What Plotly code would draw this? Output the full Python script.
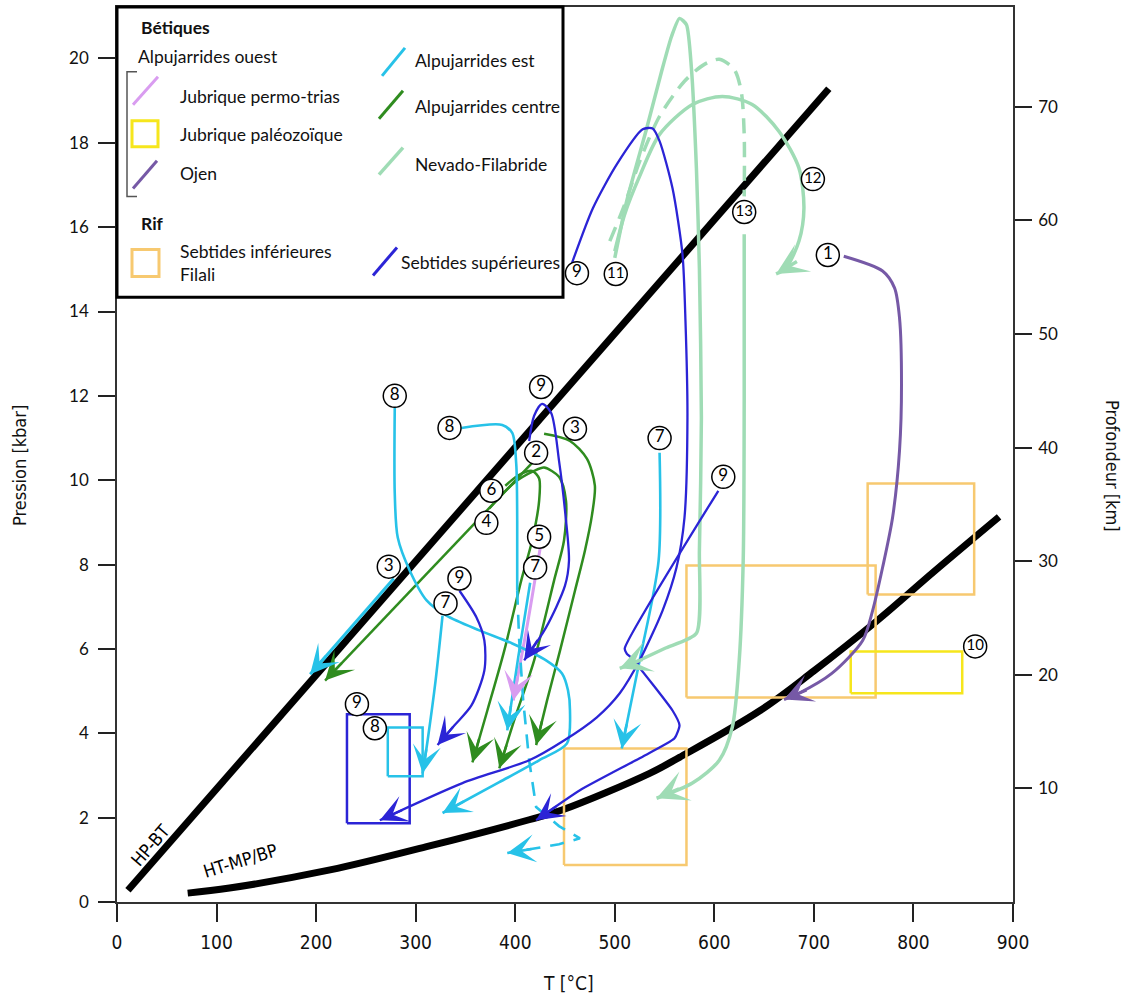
import math
import plotly.graph_objects as go

# ---------------- data (T in °C, P in kbar) ----------------
HPBT_T = [11, 715]
HPBT_P = [0.28, 19.28]
HT_T = [71, 113, 214, 314, 414, 447, 535, 565, 646, 700, 763, 820, 886]
HT_P = [0.21, 0.33, 0.76, 1.33, 1.95, 2.18, 3.05, 3.43, 4.54, 5.48, 6.66, 7.82, 9.13]

# Alpujarrides est (cyan)
C1_T = [278, 194]
C1_P = [7.67, 5.40]
C2_T = [279, 279, 282, 294, 311, 331, 364, 397, 431, 447, 453, 455, 452, 424, 384, 327]
C2_P = [11.72, 9.68, 8.64, 7.86, 7.15, 6.79, 6.44, 6.13, 5.73, 5.42, 5.02, 4.54, 3.76, 3.36, 2.84, 2.11]
C3_T = [346, 387, 397, 401, 402, 402]
C3_P = [11.24, 11.31, 11.12, 10.39, 9.04, 7.38]
C3D_T = [402, 404, 408, 414, 421, 444, 465, 444, 392]
C3D_P = [7.38, 6.20, 4.78, 3.36, 2.25, 1.80, 1.51, 1.37, 1.16]
C4_T = [415, 403, 392]
C4_P = [7.57, 5.80, 4.07]
C5_T = [327, 320, 312, 307]
C5_P = [6.79, 5.25, 3.83, 3.05]
C6_T = [545, 544, 525, 507]
C6_P = [10.65, 8.09, 5.73, 3.64]

# Jubrique permo-trias (violet)
V1_T = [425, 412, 398]
V1_P = [8.38, 6.55, 4.78]

# Alpujarrides centre (green)
G2_T = [417, 209]
G2_P = [10.41, 5.25]
G3_T = [429, 455, 472, 480, 477, 470, 460, 445, 432, 421]
G3_P = [11.10, 10.93, 10.51, 9.87, 9.16, 8.33, 7.38, 5.96, 4.78, 3.72]
G6_T = [390, 404, 417, 424, 424, 417, 406, 389, 372, 357]
G6_P = [9.87, 10.13, 10.22, 10.04, 9.51, 8.57, 7.62, 5.96, 4.54, 3.31]
G4_T = [374, 399, 419, 429, 444, 451, 449, 439, 419, 399, 384]
G4_P = [9.33, 9.94, 10.22, 10.30, 10.08, 9.51, 8.57, 7.62, 5.73, 4.31, 3.17]

# Sebtides supérieures (blue)
B1_T = [414, 419, 427, 436, 444, 450, 454, 450, 431, 409]
B1_P = [10.93, 11.53, 11.81, 11.60, 10.46, 9.28, 8.09, 7.50, 6.51, 5.73]
B2_T = [344, 361, 369, 369, 356, 339, 322]
B2_P = [7.38, 6.75, 6.20, 5.49, 4.66, 4.19, 3.72]
B3_T = [457, 478, 502, 528, 538, 545, 558, 568, 571, 573, 570, 562, 548, 525, 505, 482, 449, 414, 347, 264]
B3_P = [15.15, 16.45, 17.49, 18.32, 18.34, 18.04, 16.92, 15.36, 13.78, 11.48, 9.11, 7.93, 6.91, 5.73, 4.95, 4.38, 3.83, 3.36, 2.82, 1.94]
B5_T = [604, 510, 512, 517, 558, 565, 560, 525, 465, 421]
B5_P = [9.75, 6.01, 5.89, 5.78, 4.54, 4.19, 3.88, 3.41, 2.65, 1.94]

# Ojen (purple)
O1_T = [730, 769, 781, 786, 788, 786, 779, 769, 759, 749, 718, 685, 670]
O1_P = [15.31, 14.96, 14.56, 13.85, 12.28, 10.70, 9.11, 7.93, 6.91, 6.20, 5.42, 4.95, 4.80]

# Nevado-Filabride (light green)
N11_T = [500, 512, 532, 547, 557, 565, 572, 577, 582, 585, 587, 585, 582, 550, 518, 505]
N11_P = [15.27, 16.62, 18.34, 19.69, 20.52, 20.95, 20.80, 19.76, 17.40, 15.03, 11.48, 8.33, 6.37, 6.01, 5.66, 5.54]
NDA_T = [495, 510, 525, 545, 570, 590, 605, 620, 627, 630, 630]
NDA_P = [15.67, 16.54, 17.56, 18.63, 19.46, 19.86, 19.98, 19.74, 19.22, 18.20, 16.73]
N13_T = [630, 630, 629, 625, 618, 605, 578, 542]
N13_P = [15.83, 11.88, 8.09, 5.73, 4.14, 3.36, 2.82, 2.46]
N12_T = [500, 510, 525, 545, 578, 608, 638, 665, 685, 690, 685, 672, 662]
N12_P = [15.43, 16.31, 17.21, 18.20, 18.91, 19.10, 18.91, 18.27, 17.40, 16.45, 15.67, 15.03, 14.89]

# Boxes: [Tmin, Tmax, Pmin, Pmax]
ORANGE_BOXES = [[449, 572, 0.88, 3.64], [572, 762, 4.85, 7.98], [754, 861, 7.29, 9.92]]
YELLOW_BOX = [737, 849, 4.95, 5.94]
BLUE_BOX = [231, 294, 1.87, 4.45]
CYAN_BOX = [272, 307, 2.98, 4.14]

# Circled labels
LAB_T = [462, 501, 630, 699, 714, 279, 334, 426, 460, 421, 376, 371, 424, 420, 273, 344, 330, 545, 609, 241, 259, 862]
LAB_P = [14.91, 14.89, 16.36, 17.14, 15.34, 12.0, 11.24, 12.21, 11.22, 10.65, 9.75, 8.99, 8.66, 7.93, 7.95, 7.67, 7.08, 11.0, 10.08, 4.69, 4.12, 6.06]
LAB_TXT = ["9", "11", "13", "12", "1", "8", "8", "9", "3", "2", "6", "4", "5", "7", "3", "9", "7", "7", "9", "9", "8", "10"]

X_TICKS = [0, 100, 200, 300, 400, 500, 600, 700, 800, 900]
P_TICKS = [0, 2, 4, 6, 8, 10, 12, 14, 16, 18, 20]
D_TICKS = [10, 20, 30, 40, 50, 60, 70]
P_MAX = 21.22
KM_PER_KBAR = 3.7125

# ---------------- styles ----------------
CYAN = "#27c2e8"
GREEN = "#2f8c1f"
LGREEN = "#9fdcb5"
BLUE = "#2b24d6"
VIOLET = "#d99cf0"
PURPLE = "#7659a6"
YELLOW = "#f6e61c"
ORANGE = "#f7c970"
NARROW = "Liberation Sans Narrow, DejaVu Sans Condensed, Arial Narrow, sans-serif"
SANS = "Lato, Open Sans, sans-serif"

W0, H0, PW, PH = 117, 902, 896, 897
PX_PER_T = PW / 900.0
PX_PER_P = PH / P_MAX

fig = go.Figure()


def add_path(T, P, color, width, dash="solid", arrow=True, shape="spline", smooth=0.8, asize=1.6):
    line = dict(color=color, width=width, dash=dash, shape=shape)
    if shape == "spline":
        line["smoothing"] = smooth
    fig.add_trace(go.Scatter(x=T, y=P, mode="lines", line=line, hoverinfo="skip", showlegend=False))
    if arrow:
        tx, ty = T[-1], P[-1]
        dx = (T[-2] - tx) * PX_PER_T
        dy = (P[-2] - ty) * PX_PER_P
        n = math.hypot(dx, dy)
        L = 26.0
        fig.add_annotation(x=tx, y=ty, ax=tx + dx / n * L / PX_PER_T, ay=ty + dy / n * L / PX_PER_P,
                           xref="x", yref="y", axref="x", ayref="y", text="",
                           showarrow=True, arrowhead=3, arrowsize=asize, arrowwidth=width,
                           arrowcolor=color, standoff=0)


def add_box(b, color, width=2.5):
    fig.add_trace(go.Scatter(x=[b[0], b[1], b[1], b[0], b[0]], y=[b[2], b[2], b[3], b[3], b[2]],
                             mode="lines", line=dict(color=color, width=width),
                             hoverinfo="skip", showlegend=False))


# reference curves
fig.add_trace(go.Scatter(x=HPBT_T, y=HPBT_P, mode="lines", line=dict(color="black", width=7),
                         hoverinfo="skip", showlegend=False))
fig.add_trace(go.Scatter(x=HT_T, y=HT_P, mode="lines", line=dict(color="black", width=7, shape="spline", smoothing=1.0),
                         hoverinfo="skip", showlegend=False))

# boxes
for b in ORANGE_BOXES:
    add_box(b, ORANGE)
add_box(YELLOW_BOX, YELLOW)
add_box(BLUE_BOX, BLUE)
add_box(CYAN_BOX, CYAN)

# Nevado-Filabride
add_path(N11_T, N11_P, LGREEN, 3.5, smooth=0.6, asize=1.5)
add_path(NDA_T, NDA_P, LGREEN, 3.5, dash="15px,9px", arrow=False)
add_path(N13_T, N13_P, LGREEN, 3.5, asize=1.5)
add_path(N12_T, N12_P, LGREEN, 3.5, asize=1.5)

# Ojen
add_path(O1_T, O1_P, PURPLE, 3, asize=1.6)

# Alpujarrides centre
add_path(G2_T, G2_P, GREEN, 2.5, shape="linear", asize=1.9)
add_path(G3_T, G3_P, GREEN, 2.5, asize=1.9)
add_path(G6_T, G6_P, GREEN, 2.5, asize=1.9)
add_path(G4_T, G4_P, GREEN, 2.5, asize=1.9)

# Jubrique permo-trias
add_path(V1_T, V1_P, VIOLET, 3, asize=1.6)

# Alpujarrides est
add_path(C1_T, C1_P, CYAN, 3, shape="linear", asize=1.6)
add_path(C2_T, C2_P, CYAN, 2.6, asize=1.8)
add_path(C3_T, C3_P, CYAN, 2.6, arrow=False)
add_path(C3D_T, C3D_P, CYAN, 2.6, dash="14px,10px", shape="linear", asize=1.8)
add_path(C4_T, C4_P, CYAN, 2.6, asize=1.8)
add_path(C5_T, C5_P, CYAN, 2.6, asize=1.8)
add_path(C6_T, C6_P, CYAN, 2.6, asize=1.8)

# Sebtides supérieures
add_path(B1_T, B1_P, BLUE, 2.3, asize=2.0)
add_path(B2_T, B2_P, BLUE, 2.3, asize=2.0)
add_path(B3_T, B3_P, BLUE, 2.3, smooth=0.7, asize=2.0)
add_path(B5_T, B5_P, BLUE, 2.3, smooth=0.5, asize=2.0)

# circled labels
fig.add_trace(go.Scatter(
    x=LAB_T, y=LAB_P, mode="markers+text", text=LAB_TXT, textposition="middle center",
    marker=dict(symbol="circle", size=23, color="white", line=dict(color="black", width=1.5)),
    textfont=dict(family=SANS, size=[15 if len(t) > 1 else 17 for t in LAB_TXT], color="black"),
    hoverinfo="skip", showlegend=False))

# invisible trace on depth axis
fig.add_trace(go.Scatter(x=[0] * len(D_TICKS), y=D_TICKS, yaxis="y2", mode="markers",
                         marker=dict(opacity=0), hoverinfo="skip", showlegend=False))

# curve labels
fig.add_annotation(x=33, y=1.35, xref="x", yref="y", text="HP-BT", showarrow=False, textangle=-49,
                   font=dict(family=NARROW, size=18, color="black"))
fig.add_annotation(x=124, y=0.99, xref="x", yref="y", text="HT-MP/BP", showarrow=False, textangle=-17,
                   font=dict(family=NARROW, size=18, color="black"))


# ---------------- legend (pixel layout -> paper) ----------------
def qx(p):
    return (p - W0) / PW


def qy(p):
    return (H0 - p) / PH


shapes = []
shapes.append(dict(type="rect", xref="paper", yref="paper", x0=qx(117), x1=qx(563), y0=qy(296), y1=qy(5),
                   line=dict(color="black", width=3), fillcolor="white", layer="above"))
shapes.append(dict(type="path", xref="paper", yref="paper",
                   path=f"M{qx(137)},{qy(70)} L{qx(127)},{qy(70)} L{qx(127)},{qy(195)} L{qx(137)},{qy(195)}",
                   line=dict(color="#555555", width=1.5), layer="above"))
icons = [((133, 103), (158, 75), VIOLET), ((133, 187), (157, 159), PURPLE),
         ((382, 74), (405, 46), CYAN), ((379, 117), (403, 89), GREEN),
         ((379, 173), (403, 146), LGREEN), ((373, 274), (397, 246), BLUE)]
for (a, b, c) in icons:
    shapes.append(dict(type="line", xref="paper", yref="paper", x0=qx(a[0]), y0=qy(a[1]), x1=qx(b[0]), y1=qy(b[1]),
                       line=dict(color=c, width=3.5 if c == LGREEN else 3), layer="above"))
shapes.append(dict(type="rect", xref="paper", yref="paper", x0=qx(132), x1=qx(158), y0=qy(145), y1=qy(119),
                   line=dict(color=YELLOW, width=3), layer="above"))
shapes.append(dict(type="rect", xref="paper", yref="paper", x0=qx(132), x1=qx(159), y0=qy(275), y1=qy(248),
                   line=dict(color=ORANGE, width=3), layer="above"))

leg_texts = [("<b>Bétiques</b>", 139, 26), ("Alpujarrides ouest", 136, 55),
             ("Jubrique permo-trias", 178, 95), ("Jubrique paléozoïque", 178, 133),
             ("Ojen", 178, 172), ("<b>Rif</b>", 139, 222),
             ("Sebtides inférieures", 178, 250), ("Filali", 178, 273),
             ("Alpujarrides est", 413, 59), ("Alpujarrides centre", 413, 105),
             ("Nevado-Filabride", 413, 163), ("Sebtides supérieures", 399, 261)]
for (t, x, y) in leg_texts:
    fig.add_annotation(x=qx(x), y=qy(y), xref="paper", yref="paper", text=t, showarrow=False,
                       xanchor="left", yanchor="middle", font=dict(family=SANS, size=17.5, color="#111111"))

# axis titles
fig.add_annotation(x=qx(20), y=qy(465), xref="paper", yref="paper", text="Pression [kbar]", showarrow=False,
                   xanchor="center", yanchor="middle",
                   textangle=-90, font=dict(family=NARROW, size=18, color="#111111"))
fig.add_annotation(x=qx(1112), y=qy(465), xref="paper", yref="paper", text="Profondeur [km]", showarrow=False,
                   xanchor="center", yanchor="middle",
                   textangle=90, font=dict(family=NARROW, size=18, color="#111111"))
fig.add_annotation(x=qx(568), y=qy(983), xref="paper", yref="paper", text="T [°C]", showarrow=False,
                   xanchor="center", yanchor="middle",
                   font=dict(family=NARROW, size=19, color="#111111"))

fig.update_layout(
    width=1128, height=995, margin=dict(l=117, r=115, t=5, b=93),
    paper_bgcolor="white", plot_bgcolor="white", shapes=shapes,
    xaxis=dict(range=[0, 900], tickvals=X_TICKS, ticks="outside", ticklen=18, tickwidth=1.5, tickcolor="#222",
               showline=True, linecolor="#333", linewidth=1.5, mirror=True, showgrid=False, zeroline=False,
               tickfont=dict(family=NARROW, size=19, color="#111"), ticklabelstandoff=4),
    yaxis=dict(range=[0, P_MAX], tickvals=P_TICKS, ticks="outside", ticklen=17, tickwidth=1.5, tickcolor="#222",
               showline=True, linecolor="#333", linewidth=1.5, showgrid=False, zeroline=False,
               tickfont=dict(family=SANS, size=17, color="#111"), ticklabelstandoff=6),
    yaxis2=dict(range=[0, P_MAX * KM_PER_KBAR], tickvals=D_TICKS, overlaying="y", side="right", anchor="x",
                ticks="outside", ticklen=17, tickwidth=1.5, tickcolor="#222",
                showline=True, linecolor="#333", linewidth=1.5, showgrid=False, zeroline=False,
                tickfont=dict(family=SANS, size=17, color="#111"), ticklabelstandoff=3),
)

fig.write_html("out.html", config={"displayModeBar": False},
               post_script="document.body.style.margin='0px';")
